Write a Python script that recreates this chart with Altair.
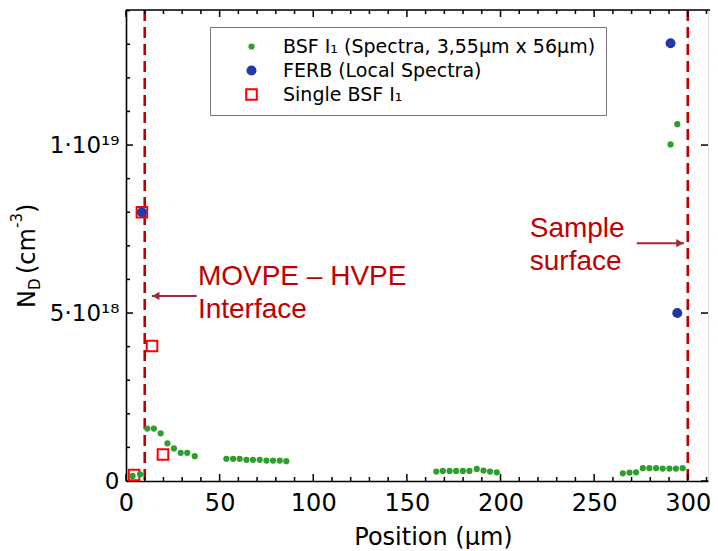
import altair as alt
import pandas as pd

# ---------------- data ----------------
series_names = ["BSF I\u2081 (Spectra, 3,55\u00b5m x 56\u00b5m)", "FERB (Local Spectra)", "Single BSF I\u2081"]

# BSF I1 (Spectra) positions in µm, N_D in 1e18 cm^-3
bsf_x = [3.5, 7.5, 11.4, 14.9, 18.5, 22.1, 25.6, 29.2, 32.7, 36.7,
         53.6, 57.2, 60.7, 64.3, 67.8, 71.4, 75.0, 78.5, 82.1, 85.6,
         165.7, 169.2, 172.8, 176.3, 179.9, 183.4, 187.3, 190.9, 194.4, 198.0,
         265.3, 268.9, 272.4, 276.0, 279.5, 283.1, 286.6, 290.2, 293.7, 297.3,
         290.8, 294.4]
bsf_y = [0.15, 0.20, 1.56, 1.56, 1.42, 1.12, 0.97, 0.84, 0.84, 0.74,
         0.66, 0.66, 0.66, 0.63, 0.63, 0.63, 0.61, 0.61, 0.61, 0.59,
         0.28, 0.30, 0.30, 0.30, 0.30, 0.30, 0.36, 0.31, 0.28, 0.26,
         0.23, 0.25, 0.26, 0.38, 0.38, 0.38, 0.37, 0.37, 0.37, 0.38,
         10.02, 10.62]

# FERB (Local Spectra)
ferb_x = [8.5, 290.8, 294.4]
ferb_y = [8.0, 13.03, 5.0]

# Single BSF I1
single_x = [4.3, 8.5, 13.9, 19.75]
single_y = [0.18, 8.0, 4.02, 0.79]

# reference lines and annotations
vline_x = [10, 300]
ann_text = ["MOVPE \u2013 HVPE\nInterface", "Sample\nsurface"]
ann_x = [38.4, 215.6]
ann_y = [5.83, 7.26]
arrow_tail = [37.8, 272.8]
arrow_head = [13.8, 297.9]
arrow_y = [5.51, 7.08]

x_major = [0, 50, 100, 150, 200, 250, 300]
x_minor = [v for v in range(10, 320, 10) if v % 50 != 0]
y_major = [0, 5, 10]
y_minor = [1, 2, 3, 4, 6, 7, 8, 9, 11, 12, 13, 14]
E = 1e18

# ---------------- tables ----------------
rows = []
for x, y in zip(single_x, single_y):
    rows.append({"x": x, "y": y * E, "s": series_names[2]})
for x, y in zip(bsf_x, bsf_y):
    rows.append({"x": x, "y": y * E, "s": series_names[0]})
for x, y in zip(ferb_x, ferb_y):
    rows.append({"x": x, "y": y * E, "s": series_names[1]})
pts = pd.DataFrame(rows)

W, H = 582, 471
XMAX = 310.8
YMAX = 1.402e19
xscale = alt.Scale(domain=[0, XMAX], nice=False, zero=False)
yscale = alt.Scale(domain=[0, YMAX], nice=False, zero=False)

xaxis = alt.Axis(values=x_major, grid=False, ticks=False, tickSize=0,
                 domainColor="black", domainWidth=1.6,
                 labelFont="DejaVu Sans", labelFontSize=24, labelColor="black",
                 labelPadding=10, labelFlush=False,
                 title="Position (\u00b5m)", titleFont="DejaVu Sans", titleFontSize=24,
                 titleFontWeight="normal", titleColor="black",
                 titleX=307, titleY=63, titleBaseline="alphabetic", titleAnchor="start",
                 titleAlign="center")
yaxis = alt.Axis(values=[0, 5e18, 1e19], grid=False, ticks=False, tickSize=0,
                 domainColor="black", domainWidth=1.6,
                 labelFont="DejaVu Sans", labelFontSize=23, labelColor="black",
                 labelPadding=7, labelFlush=False,
                 labelExpr="datum.value > 7e18 ? '1\u00b710\u00b9\u2079' : (datum.value > 1e18 ? '5\u00b710\u00b9\u2078' : '0')",
                 title=None)


def X(f="x"):
    return alt.X(f, type="quantitative", scale=xscale, axis=xaxis)


def Y(f="y"):
    return alt.Y(f, type="quantitative", scale=yscale, axis=yaxis)


points = alt.Chart(pts).mark_point(opacity=1, strokeWidth=2).encode(
    x=X(), y=Y(),
    shape=alt.Shape("s:N", scale=alt.Scale(domain=series_names, range=["circle", "circle", "square"]),
                    legend=alt.Legend(title=None, orient="none", legendX=84, legendY=17,
                                      padding=10, rowPadding=4,
                                      labelFont="DejaVu Sans", labelFontSize=19, labelColor="black",
                                      strokeColor="#777777", fillColor="white",
                                      symbolOffset=22, labelOffset=22, symbolStrokeWidth=2,
                                      labelLimit=400)),
    fill=alt.Fill("s:N", scale=alt.Scale(domain=series_names, range=["#2ca02c", "#2238a8", "transparent"])),
    stroke=alt.Stroke("s:N", scale=alt.Scale(domain=series_names, range=["#2ca02c", "#2238a8", "#ff0000"])),
    size=alt.Size("s:N", scale=alt.Scale(domain=series_names, range=[18, 112, 135])),
)

vl = alt.Chart(pd.DataFrame({"x": vline_x})).mark_rule(
    color="#c00000", strokeWidth=2.6, strokeDash=[11, 6]).encode(x=X())

ann = alt.Chart(pd.DataFrame({"x": ann_x, "y": [v * E for v in ann_y], "t": ann_text})).mark_text(
    align="left", baseline="alphabetic", font="Liberation Sans", fontSize=28,
    color="#c00000", lineBreak="\n", lineHeight=33).encode(x=X(), y=Y(), text="t:N")

arr_df = pd.DataFrame({"x": arrow_tail, "x2": arrow_head, "y": [v * E for v in arrow_y]})
arr_line = alt.Chart(arr_df).mark_rule(color="#a0283c", strokeWidth=2).encode(
    x=X(), x2="x2", y=Y())
head_left = alt.Chart(arr_df.iloc[[0]]).mark_point(
    shape="triangle-left", filled=True, opacity=1, size=70, color="#a0283c", xOffset=4).encode(
    x=X("x2"), y=Y())
head_right = alt.Chart(arr_df.iloc[[1]]).mark_point(
    shape="triangle-right", filled=True, opacity=1, size=70, color="#a0283c", xOffset=-4).encode(
    x=X("x2"), y=Y())


# inward ticks (bottom, top, left, right)
def xticks(vals, length):
    d = pd.DataFrame({"x": vals})
    bottom = alt.Chart(d).mark_rule(color="black", strokeWidth=1.5).encode(
        x=X(), y=alt.value(H), y2=alt.value(H - length))
    top = alt.Chart(d).mark_rule(color="black", strokeWidth=1.5).encode(
        x=X(), y=alt.value(0), y2=alt.value(length))
    return [bottom, top]


def yticks(vals, length, right=False):
    d = pd.DataFrame({"y": [v * E for v in vals]})
    out = [alt.Chart(d).mark_rule(color="black", strokeWidth=1.5).encode(
        y=Y(), x=alt.value(0), x2=alt.value(length))]
    if right:
        out.append(alt.Chart(d).mark_rule(color="black", strokeWidth=1.5).encode(
            y=Y(), x=alt.value(W - length), x2=alt.value(W)))
    return out


top_line = alt.Chart(pd.DataFrame({"x": [0]})).mark_rule(color="black", strokeWidth=1.6).encode(
    x=alt.value(0), x2=alt.value(W + 2), y=alt.value(0))

# y-axis title built from pieces (N_D (cm^-3))
title_parts = ["N", "D", "(cm", "-3", ")"]
title_size = [24, 15, 24, 15, 24]
title_px = [-91, -86, -91, -104, -91]
title_py = [298, 280, 264, 218, 203]
ytitle = [
    alt.Chart(pd.DataFrame({"t": [t]})).mark_text(
        angle=270, align="left", baseline="alphabetic", font="DejaVu Sans",
        fontSize=fs, color="black").encode(text="t:N", x=alt.value(px), y=alt.value(py))
    for t, fs, px, py in zip(title_parts, title_size, title_px, title_py)
]

layers = [vl] + xticks(x_major, 7) + xticks(x_minor, 4) + yticks(y_major, 7, right=True) + \
         yticks(y_minor, 4) + [top_line, points, arr_line, head_left, head_right, ann] + ytitle

chart = alt.layer(*layers).properties(
    width=W, height=H,
    autosize=alt.AutoSizeParams(type="none"),
    padding={"left": 118, "top": 2, "right": 2, "bottom": 68},
).configure_view(stroke=None).configure(font="DejaVu Sans")

chart.save("out.html", embed_options={"renderer": "svg", "actions": False})
